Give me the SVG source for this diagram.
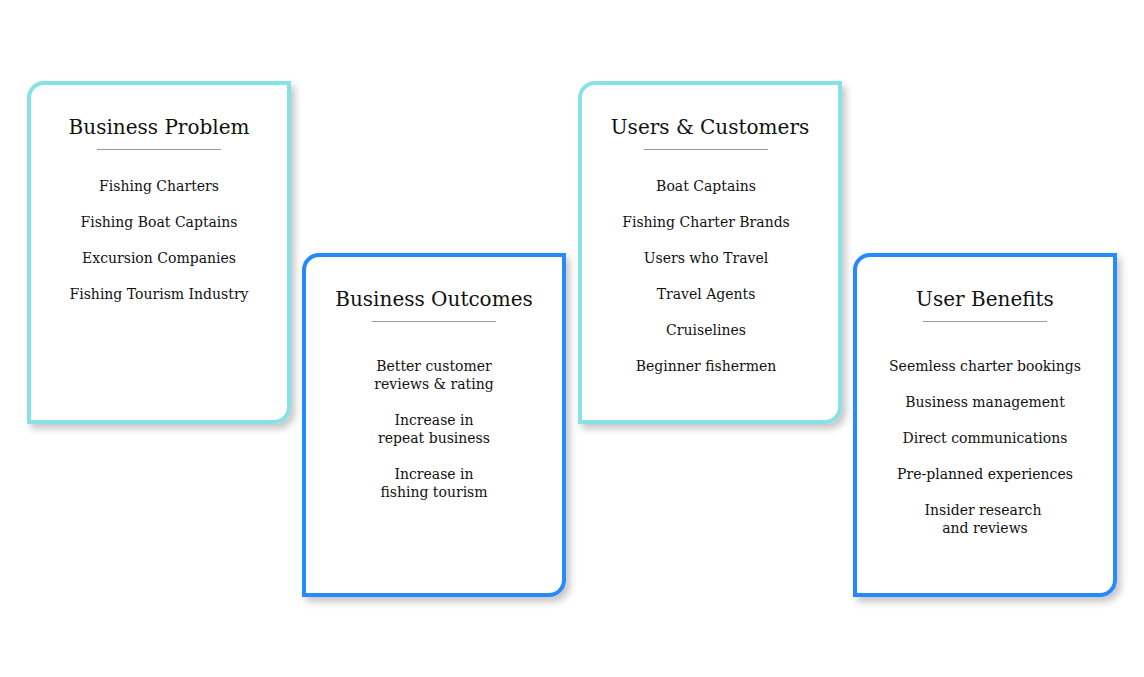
<svg xmlns="http://www.w3.org/2000/svg" width="1144" height="677" viewBox="0 0 1144 677">
<style>
.card{fill:#fff;stroke-width:4;filter:url(#sh)}
.cyan{stroke:#86E2E8}
.blue{stroke:#2589FC}
.title{font-family:"DejaVu Serif","Liberation Serif",serif;font-size:20px;fill:#111;text-anchor:middle}
.item{font-family:"DejaVu Serif","Liberation Serif",serif;font-size:14px;fill:#111;text-anchor:middle}
.rule{stroke:#999;stroke-width:1}
</style>
<defs>
<filter id="sh" x="-10%" y="-10%" width="125%" height="125%">
<feDropShadow dx="4" dy="5" stdDeviation="3.5" flood-color="#000" flood-opacity="0.22"/>
</filter>
</defs>
<rect width="1144" height="677" fill="#fff"/>
<g id="business-problem">
<path class="card cyan" d="M29,98 A15,15 0 0 1 44,83 H289 V407 A15,15 0 0 1 274,422 H29 Z"/>
<text class="title" x="159" y="134">Business Problem</text>
<line class="rule" x1="97" y1="149.5" x2="221" y2="149.5"/>
<text class="item" x="159" y="191">Fishing Charters</text>
<text class="item" x="159" y="227">Fishing Boat Captains</text>
<text class="item" x="159" y="263">Excursion Companies</text>
<text class="item" x="159" y="299">Fishing Tourism Industry</text>
</g>
<g id="business-outcomes">
<path class="card blue" d="M304,270 A15,15 0 0 1 319,255 H564 V580 A15,15 0 0 1 549,595 H304 Z"/>
<text class="title" x="434" y="306">Business Outcomes</text>
<line class="rule" x1="372" y1="321.5" x2="496" y2="321.5"/>
<text class="item" x="434" y="371">Better customer</text>
<text class="item" x="434" y="389">reviews &amp; rating</text>
<text class="item" x="434" y="425">Increase in</text>
<text class="item" x="434" y="443">repeat business</text>
<text class="item" x="434" y="479">Increase in</text>
<text class="item" x="434" y="497">fishing tourism</text>
</g>
<g id="users-customers">
<path class="card cyan" d="M580,98 A15,15 0 0 1 595,83 H840 V407 A15,15 0 0 1 825,422 H580 Z"/>
<text class="title" x="710" y="134">Users &amp; Customers</text>
<line class="rule" x1="644" y1="149.5" x2="768" y2="149.5"/>
<text class="item" x="706" y="191">Boat Captains</text>
<text class="item" x="706" y="227">Fishing Charter Brands</text>
<text class="item" x="706" y="263">Users who Travel</text>
<text class="item" x="706" y="299">Travel Agents</text>
<text class="item" x="706" y="335">Cruiselines</text>
<text class="item" x="706" y="371">Beginner fishermen</text>
</g>
<g id="user-benefits">
<path class="card blue" d="M855,270 A15,15 0 0 1 870,255 H1115 V580 A15,15 0 0 1 1100,595 H855 Z"/>
<text class="title" x="985" y="306">User Benefits</text>
<line class="rule" x1="923" y1="321.5" x2="1047" y2="321.5"/>
<text class="item" x="985" y="371">Seemless charter bookings</text>
<text class="item" x="985" y="407">Business management</text>
<text class="item" x="985" y="443">Direct communications</text>
<text class="item" x="985" y="479">Pre-planned experiences</text>
<text class="item" x="983" y="515">Insider research</text>
<text class="item" x="985" y="533">and reviews</text>
</g>
<g id="connectors"></g>
</svg>
